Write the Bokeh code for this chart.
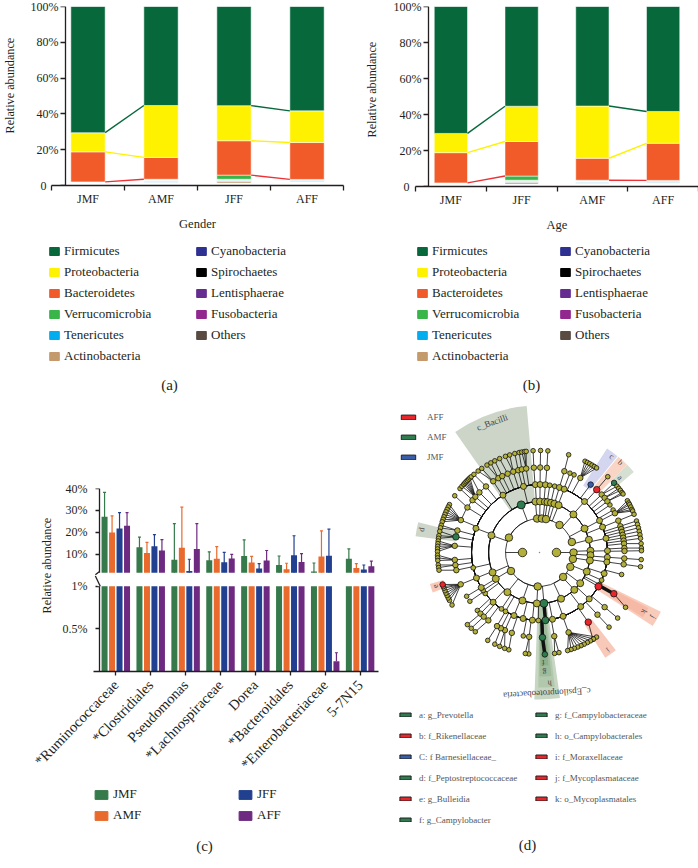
from math import pi, radians, sin, cos
from bokeh.plotting import figure
from bokeh.layouts import column, row
from bokeh.models import (ColumnDataSource, FixedTicker, Label, Legend, LegendItem, LinearAxis,
                          Range1d, TeeHead, Title, Whisker)
from bokeh.core.properties import value
from bokeh.embed import file_html
from bokeh.resources import INLINE

SERIF = "Liberation Serif"
INK = "#231f20"
PAGE_X = 10  # the layout's negative margins move the page origin by these amounts
PAGE_Y = 4

# ---- panels (a), (b): stacked composition, order JMF, AMF, JFF, AFF
groups = ["JMF", "AMF", "JFF", "AFF"]
order_a = ["JMF", "AMF", "JFF", "AFF"]
order_b = ["JMF", "JFF", "AMF", "AFF"]
blank_low = [2.0, 1.8, 1.4, 2.2]
actinobacteria = [0, 0, 0.9, 0]
tenericutes = [0, 0.6, 0.6, 0.7]
blank_high = [0, 1.1, 0.6, 0.5]
verrucomicrobia = [0, 0, 2.3, 0]
bacteroidetes = [16.8, 12.2, 19.2, 20.6]
proteobacteria = [10.7, 29.0, 19.6, 17.7]
firmicutes = [70.5, 55.3, 55.4, 58.3]

phyla_left = ["Firmicutes", "Proteobacteria", "Bacteroidetes", "Verrucomicrobia", "Tenericutes", "Actinobacteria"]
phyla_right = ["Cyanobacteria", "Spirochaetes", "Lentisphaerae", "Fusobacteria", "Others"]
phylum_colors = {"Firmicutes": "#06683b", "Proteobacteria": "#fff200", "Bacteroidetes": "#f15a29",
                 "Verrucomicrobia": "#39b54a", "Tenericutes": "#00aeef", "Actinobacteria": "#c49a6c",
                 "Cyanobacteria": "#2e3192", "Spirochaetes": "#000000", "Lentisphaerae": "#662d91",
                 "Fusobacteria": "#92278f", "Others": "#594a42"}
pct_ticks = [0, 20, 40, 60, 80, 100]
pct_labels = ["0\u00a0\u00a0\u00a0\u00a0", "20%", "40%", "60%", "80%", "100%"]

# ---- panel (c)
genera = ["*Ruminococcaceae", "*Clostridiales", "Pseudomonas", "*Lachnospiraceae", "Dorea",
          "*Bacteroidales", "*Enterobacteriaceae", "5-7N15"]
c_groups = ["JMF", "AMF", "JFF", "AFF"]
c_colors = ["#36794b", "#e86a2c", "#21408f", "#6e2a80"]
jmf_mean = [27.2, 13.3, 7.6, 7.3, 9.3, 5.2, 2.2, 8.0]
jmf_top = [38.2, 17.9, 24.0, 11.2, 16.6, 9.3, 6.1, 12.5]
amf_mean = [20.0, 10.6, 13.1, 8.0, 6.3, 3.3, 9.1, 3.8]
amf_top = [27.5, 15.5, 31.5, 13.6, 9.1, 6.0, 20.7, 5.8]
jff_mean = [21.8, 13.7, 2.5, 6.4, 3.6, 9.6, 9.4, 3.2]
jff_top = [29.0, 19.0, 7.8, 10.9, 5.8, 18.5, 21.5, 5.2]
aff_mean = [23.0, 11.8, 12.5, 8.2, 7.2, 6.6, 0.12, 4.6]
aff_top = [29.0, 16.7, 24.0, 10.0, 11.8, 10.4, 0.22, 7.0]

# ---- panel (d): cladogram; a node is an angle (degrees clockwise from north) or (angle, children)
ring_step = 17
clades = [
    (296, [
        (289.6, [
            (290.8, [(292.4, [298, 296.5, 295, 293.5, 292, 290.5, 289, 287.5]),
                     (285, [285.5, 284]), (280.6, [282, 279.5, 278]),
                     (274.5, [276.5, 275, 273.5, 272, 270.5]), (265, [268.5, 267, 265.5]),
                     (261.5, [263, 261.5]), (258, [260]),
                     (302, [303.8]), (308, [308.8]),
                     (311, [310.5, 312, 313, 314, 315, 316, 317]), (315, [318]), (321, [320])]),
            257]),
        (339, [
            (327.5, [(327, [323, 325.5]), (331, [329, 331.5]), (334, [334]),
                     (338, [337]), (342, [340.5, 343])]),
            (346.4, [(345.5, [346]), (348, [348.5]), (351, [350, 351.5, 352.5])])]),
    ]),
    (356, [(355.5, [(356.5, [(356.2, [356.4])])])]),
    (4, [(0.5, [(0.5, [(0.5, [0.6])])]), (6, [(5, [(5, [4.7])])])]),
    (11, [(9, [8.7]), (13, [12.9]), (17, [(17, [(17, [16.6])])]), (22, [(21.3, [21, 24])])]),
    (36, [(41.7, [(41.4, [(28.7, [26.5, 28, 29.5, 31, 32.5, 34]), 37, (42.3, [42]),
                          (47, [47, 49.5]), (50, [51, 52.5]), (53, [54, 55]), 56, 60])])]),
    (72, [(62, [(62, [(62.5, [59.5, 61, 62, 63.5, 65, 66])]), (68, [(68, [68])])]),
          (75.5, [(78, [(72, [72]), (74, [74]), (76, [76]), (78, [78]), (80, [80]),
                        (82, [82]), (84, [85]), (87, [87.5])])])]),
    (90, [(88, [(88.5, [(89, [89])])]), (93, [(94, [(94, [94])])])]),
    (101, [(99, [(98, [(98, [98])])])]),
    (115, [(112, [(108, [(105, [])]), 114, 118, (120, [(119, [122.5])])])]),
    (136, [(127, [(133, [(130, [130]), (137, [137])])]),
           (137, [(142.7, [(145, [148.4])])]),
           (155, [(159.7, [(160, [146, 148, 150, 152, 154, 156, 158, 160, 162, 164])]),
                  (169, [(170, [169, 171.5])])])]),
    (183, [(175, [(175, [(178, [177])])]),
           (183, [(186, [(187, [186, 188])]), 181]),
           (199.5, [(194, [191]), (202, [(199, [197.5]), (204, [200, 203]), (207, [206]), (210, [210.5])])]),
           (219, [214, 210, (223, [227, (224, [225]), (221, [222]), (217, [219])])])]),
    (237, [(239, [233, 236, (239, [235, 239])]),
           (247, [(248, [(248, [239, 242, 243.5, 245, 246.5, 248, 249.5, 250.5, 251.7])])])]),
]
top_level_nodes = [270, 90]
ring_arcs = [(34, 237, 432), (34, 115, 237), (51, 290, 339), (51, 339, 360), (51, 356, 385),
             (68, 356, 381), (85, 292, 321)]
green, red, blue = "#2f7d4f", "#e8272d", "#3a5da8"
colored = {(51, 339): green, (85, 280.6): green, (102, 47): green, (85, 37): blue, (85, 42.3): red,
           (102, 251.7): red, (85, 145): red, (68, 120): red, (85, 119): red,
           (51, 175): green, (68, 175): green, (85, 178): green, (102, 177): green}
# (r_in, r_out, from, to, colour)
shades = [(50, 147, 325, 355, "#ccd5c8"), (80, 124, 33, 39, "#d3d6ee"), (85, 124, 39.5, 45, "#f9d5c5"),
          (100, 124, 45, 49.5, "#d5dfd2"), (85, 125, 277.5, 284, "#cdd6c8"), (100, 114, 249.5, 254, "#f8c8b8"),
          (85, 124, 142, 148, "#f8c8b8"), (68, 135, 116, 123, "#f9cbbb"), (85, 122, 117, 122, "#f6b9a5"),
          (50, 147, 172, 182, "#c6d6c2"), (51, 135, 173.5, 180.5, "#b2c8ad"),
          (68, 124, 174.5, 180, "#a0bb9b"), (85, 113, 175.5, 179.5, "#8db08a")]
wedge_text = [("c_Bacilli", 138.5, 340, 9), ("c_Epsilonproteobacteria", 141, 177, 9),
              ("a", 110, 47, 8), ("b", 121, 42, 8), ("c", 120, 37, 8), ("d", 120, 281, 8), ("e", 110, 252, 8),
              ("f", 110, 178, 8), ("g", 120, 177.6, 8), ("h", 131, 175.5, 8), ("i", 119, 145, 8),
              ("j", 131, 119.6, 8), ("k", 120, 119.4, 8)]
d_groups = [("AFF", red), ("AMF", green), ("JMF", blue)]
d_left = [("a: g_Prevotella", green), ("b: f_Rikenellaceae", red), ("C: f Barnesiellaceae_", blue),
          ("d: f_Peptostreptococcaceae", green), ("e: g_Bulleidia", red), ("f: g_Campylobacter", green)]
d_right = [("g: f_Campylobacteraceae", green), ("h: o_Campylobacterales", green), ("i: f_Moraxellaceae", red),
           ("j: f_Mycoplasmataceae", red), ("k: o_Mycoplasmatales", red)]


def base_fig(w, h, left, right, top, bottom, xr, yr):
    return figure(width=w, height=h, min_border_left=left, min_border_right=right, min_border_top=top,
                  min_border_bottom=bottom, x_range=xr, y_range=yr, output_backend="svg",
                  toolbar_location=None, tools="", outline_line_color=None, background_fill_color=None,
                  border_fill_color=None, frame_align=False)


def sheet(w, h):
    """A figure whose frame is its whole canvas (for legends and captions); y counts from the top."""
    p = base_fig(w, h, 0, 0, 0, 0, Range1d(0, w), Range1d(h, 0))
    p.axis.visible = False
    p.grid.visible = False
    return p


def swatch(p, color, line=None):
    return p.rect(x=[float("nan")], y=[float("nan")], width=1, height=1, fill_color=color,
                  line_color=line or color, line_width=1)


def add_legend(p, entries, x, top, h, gw, gh, pitch, size, standoff, row_h, text_color=INK, line=None):
    items = [LegendItem(label=value(n), renderers=[swatch(p, c, line)]) for n, c in entries]
    total = row_h * len(entries) + (pitch - row_h) * (len(entries) - 1)
    lg = Legend(items=items, location=(x, h - (top + total)), padding=0, margin=0,
                spacing=pitch - row_h, glyph_width=gw, glyph_height=gh, label_height=row_h,
                label_standoff=standoff, label_text_font=SERIF, label_text_font_size=size,
                label_text_color=text_color, border_line_color=None, background_fill_alpha=0)
    p.add_layout(lg, "center")


def caption(p, text, x, y, size="15px"):
    p.add_layout(Label(x=x, y=y, text=text, text_font=SERIF, text_font_size=size, text_align="center",
                       text_baseline="middle", text_color=INK))


def y_title(p, size, offset, standoff):
    p.add_layout(Title(text="Relative abundance", align="left", offset=offset, standoff=standoff,
                       text_font=SERIF, text_font_size=size, text_font_style="normal", text_color=INK), "left")


def style_axis(ax, size="12px"):
    ax.axis_line_color = INK
    ax.axis_line_width = 1.3
    ax.major_tick_line_color = INK
    ax.major_tick_line_width = 1.3
    ax.minor_tick_line_color = INK
    ax.minor_tick_line_width = 1.3
    ax.major_label_text_font = SERIF
    ax.major_label_text_font_size = size
    ax.major_label_text_color = INK


def split_y_axis(p, ticks, labels, axis_pos, tick_len, standoff):
    """Labels stay on the frame's side axis; the line and ticks are a second axis inset in the frame."""
    lab = p.yaxis[0]
    lab.ticker = FixedTicker(ticks=ticks)
    lab.major_label_overrides = dict(zip(ticks, labels))
    lab.axis_line_color = None
    lab.major_tick_line_color = None
    lab.minor_tick_line_color = None
    lab.major_tick_in, lab.major_tick_out, lab.minor_tick_in, lab.minor_tick_out = 0, 0, 0, 0
    lab.major_label_standoff = standoff
    lab.major_label_text_font = SERIF
    lab.major_label_text_font_size = "12px"
    lab.major_label_text_color = INK
    line = LinearAxis(fixed_location=axis_pos, ticker=FixedTicker(ticks=ticks), major_label_text_font_size="0px",
                      major_tick_in=0, major_tick_out=tick_len, minor_tick_in=0, minor_tick_out=0,
                      major_label_standoff=0, major_label_text_alpha=0)
    style_axis(line, "0px")
    p.add_layout(line, "left")
    return line


def stacked_panel(order, w, left, right, top, bottom, axis_x, bar_w, xname, tag, tag_x, legend_x1, legend_x2,
                  y_offset, label_standoff, title_standoff):
    idx = [groups.index(g) for g in order]
    pick = lambda s: [s[i] for i in idx]
    names = ["blank_low", "Actinobacteria", "Tenericutes", "blank_high", "Verrucomicrobia",
             "Bacteroidetes", "Proteobacteria", "Firmicutes"]
    cols = [blank_low, actinobacteria, tenericutes, blank_high, verrucomicrobia,
            bacteroidetes, proteobacteria, firmicutes]
    colors = ["#ffffff", phylum_colors["Actinobacteria"], "#6fc8ea", "#ffffff", phylum_colors["Verrucomicrobia"],
              phylum_colors["Bacteroidetes"], phylum_colors["Proteobacteria"], phylum_colors["Firmicutes"]]
    data = {n: pick(c) for n, c in zip(names, cols)}
    data["x"] = [i + 0.5 for i in range(4)]
    p = base_fig(w, 240 + PAGE_Y, left, right, top + PAGE_Y, bottom, Range1d(0, 4), Range1d(0, 100))
    p.vbar_stack(names, x="x", width=bar_w, color=colors, source=ColumnDataSource(data),
                 line_color="#ffffff", line_width=0.7, line_alpha=0.75)
    # connecting lines between paired bars
    cum = [0, 0, 0, 0]
    levels = {}
    for n in names:
        if n in ("Bacteroidetes", "Proteobacteria", "Firmicutes"):
            levels[n] = list(cum)
        cum = [a + b for a, b in zip(cum, data[n])]
    for n, c in (("Firmicutes", "#06683b"), ("Proteobacteria", "#fff200"), ("Bacteroidetes", "#ed3237")):
        for a, b in ((0, 1), (2, 3)):
            p.line([a + 0.5 + bar_w / 2, b + 0.5 - bar_w / 2], [levels[n][a], levels[n][b]], line_color=c, line_width=1.4)
    p.grid.visible = False
    split_y_axis(p, pct_ticks, pct_labels, axis_x, 5, label_standoff)
    xa = p.xaxis[0]
    xa.ticker = FixedTicker(ticks=data["x"], minor_ticks=[0, 1, 2, 3, 4])
    xa.major_label_overrides = {x: g for x, g in zip(data["x"], order)}
    xa.major_tick_in, xa.major_tick_out = 0, 0
    xa.minor_tick_in, xa.minor_tick_out = 0, 5
    xa.major_label_standoff = 1
    xa.axis_label = xname
    xa.axis_label_standoff = 8
    xa.axis_label_text_font = SERIF
    xa.axis_label_text_font_size = "12.5px"
    xa.axis_label_text_font_style = "normal"
    xa.axis_label_text_color = INK
    style_axis(xa)
    y_title(p, "12.2px", y_offset, title_standoff)
    s = sheet(w, 160)
    add_legend(s, [(n, phylum_colors[n]) for n in phyla_left], legend_x1, 3, 160, 12, 10, 21, "13px", 4, 16)
    add_legend(s, [(n, phylum_colors[n]) for n in phyla_right], legend_x2, 3, 160, 12, 10, 21, "13px", 4, 16)
    caption(s, tag, tag_x, 144)
    return column(p, s, spacing=0)


pa = stacked_panel(order_a, 350 + PAGE_X, 48 + PAGE_X, 7, 6, 55, 0.195, 0.47, "Gender", "(a)", 169 + PAGE_X,
                   48 + PAGE_X, 195 + PAGE_X, 52, -7, 21)
pb = stacked_panel(order_b, 348, 63, 0, 6, 54, 0.19, 0.47, "Age", "(b)", 181, 66, 209, 49, -6, 24)

# ---------------------------- panel (c)
PX = 34.9
x0, x1 = (93 - 115.3) / PX, (378 - 115.3) / PX
y_top = 40.0
y_bot = 10 - (675 - 555.7) / 2.24
low_top = (675 - 488.3) / 87.0
pc = base_fig(380 + PAGE_X, 380, 93 + PAGE_X, 2, 88, 105, Range1d(x0, x1), Range1d(y_bot, y_top))
pc.extra_y_ranges = {"low": Range1d(0, low_top)}
break_at = 10 - (574.3 - 555.7) / 2.24
means = [jmf_mean, amf_mean, jff_mean, aff_mean]
tops = [jmf_top, amf_top, jff_top, aff_top]
offs = [-0.322, -0.107, 0.107, 0.322]


def low_to_main(v):
    """Position on the main axis of a value on the lower (0-1%) segment."""
    return round(y_bot + v * (y_top - y_bot) / low_top, 3)


for off, col, m, t in zip(offs, c_colors, means, tops):
    xs = [i + off for i in range(len(genera))]
    up = [(x, v, e) for x, v, e in zip(xs, m, t) if v > break_at]
    src = ColumnDataSource(dict(x=[u[0] for u in up], v=[u[1] for u in up], e=[u[2] for u in up],
                                b=[break_at] * len(up), lo=[max(2 * u[1] - u[2], break_at) for u in up]))
    pc.vbar(x="x", bottom="b", top="v", width=0.172, source=src, fill_color=col, line_color=None)
    pc.add_layout(Whisker(source=src, base="x", upper="e", lower="lo", dimension="height",
                          line_color=col, line_width=1.2, upper_head=TeeHead(size=3, line_color=col, line_width=1.2),
                          lower_head=None))
    low = ColumnDataSource(dict(x=xs, v=[min(v, 1) for v in m]))
    pc.vbar(x="x", bottom=0, top="v", width=0.172, source=low, fill_color=col, line_color=None, y_range_name="low")
    sm = [(x, v, e) for x, v, e in zip(xs, m, t) if e < 1]
    if sm:
        s2 = ColumnDataSource(dict(x=[a[0] for a in sm], v=[a[1] for a in sm], e=[a[2] for a in sm]))
        pc.add_layout(Whisker(source=s2, base="x", upper="e", lower="v", dimension="height", y_range_name="low",
                              line_color=col, line_width=1.2, upper_head=TeeHead(size=3, line_color=col, line_width=1.2),
                              lower_head=None))
pc.grid.visible = False
axis_pos = (98.7 - 115.3) / PX
c_ticks = [10, 20, 30, 40, low_to_main(0), low_to_main(0.5), low_to_main(1)]
c_labels = ["10%", "20%", "30%", "40%", "0", "0.5%", "1%"]
split_y_axis(pc, c_ticks, c_labels, axis_pos, 4, 6)
xa = pc.xaxis[0]
xa.ticker = FixedTicker(ticks=list(range(len(genera))))
xa.major_label_overrides = {i: g for i, g in enumerate(genera)}
xa.major_tick_in, xa.major_tick_out = 0, 4
xa.minor_tick_in, xa.minor_tick_out = 0, 0
xa.major_label_orientation = 0.8
xa.major_label_standoff = 7
style_axis(xa, "14.5px")
# axis break: white gap across the axis line and two slanted ticks
pc.quad(left=[axis_pos - 0.05], right=[axis_pos + 0.05], bottom=[break_at], top=[low_to_main(1)],
        fill_color="#ffffff", line_color=None, level="overlay")
pc.segment(x0=[axis_pos - 0.11], y0=[break_at - 0.9], x1=[axis_pos], y1=[break_at + 0.4],
           line_color=INK, line_width=1.3, level="overlay")
pc.segment(x0=[axis_pos - 0.11], y0=[low_to_main(1.12)], x1=[axis_pos + 0.03], y1=[low_to_main(1.0)],
           line_color=INK, line_width=1.3, level="overlay")
y_title(pc, "12.2px", 58, 11)
cs = sheet(380 + PAGE_X, 88)
add_legend(cs, [("JMF", c_colors[0]), ("AMF", c_colors[1])], 93 + PAGE_X, 6, 88, 16, 11, 21, "13px", 4, 16)
add_legend(cs, [("JFF", c_colors[2]), ("AFF", c_colors[3])], 237 + PAGE_X, 6, 88, 16, 11, 21, "13px", 4, 16)
caption(cs, "(c)", 204 + PAGE_X, 65)

# ---------------------------- panel (d)
pd = base_fig(318, 468, 0, 0, 0, 0, Range1d(-159, 159), Range1d(-316, 152))
pd.axis.visible = False
pd.grid.visible = False


def polar(r, a):
    return r * sin(radians(a)), r * cos(radians(a))


for r0, r1, a0, a1, col in shades:
    pd.annular_wedge(x=[0], y=[0], inner_radius=r0, outer_radius=r1, start_angle=radians(90 - a0),
                     end_angle=radians(90 - a1), direction="clock", fill_color=col, line_color=None)

arc_r, arc_s, arc_e = [], [], []
seg = {"x0": [], "y0": [], "x1": [], "y1": []}
thick = {"x0": [], "y0": [], "x1": [], "y1": []}
nodes = {"x": [], "y": [], "size": [], "color": []}
OLIVE = "#b3b03a"
SIZES = {17: 8.5, 34: 7.5, 51: 7, 68: 6, 85: 5.5, 102: 4.6}


def walk(node, r):
    a, kids = (node, []) if not isinstance(node, tuple) else node
    col = colored.get((r, a))
    x, y = polar(r, a)
    size = SIZES[r]
    if not kids and r < 102:
        size = max(size - 1.2, 4.6)
    if col:
        size += 1
    nodes["x"].append(x); nodes["y"].append(y); nodes["size"].append(size); nodes["color"].append(col or OLIVE)
    if kids:
        angs = [k if not isinstance(k, tuple) else k[0] for k in kids]
        fan = r >= 85  # the outermost level fans out straight from its node
        if not fan:
            span = angs + [a]
            arc_r.append(r); arc_s.append(radians(90 - min(span))); arc_e.append(radians(90 - max(span)))
        for k, ka in zip(kids, angs):
            kc = colored.get((r + ring_step, ka))
            tgt = thick if (col and kc) else seg
            p0, p1 = polar(r, a if fan else ka), polar(r + ring_step, ka)
            tgt["x0"].append(p0[0]); tgt["y0"].append(p0[1]); tgt["x1"].append(p1[0]); tgt["y1"].append(p1[1])
            walk(k, r + ring_step)


for c in clades:
    walk(c, 34)
for a in top_level_nodes:
    x, y = polar(17, a)
    nodes["x"].append(x); nodes["y"].append(y); nodes["size"].append(SIZES[17]); nodes["color"].append(OLIVE)
    p0, p1 = polar(17, a), polar(34, a)
    seg["x0"].append(p0[0]); seg["y0"].append(p0[1]); seg["x1"].append(p1[0]); seg["y1"].append(p1[1])
for r, a0, a1 in ring_arcs:
    arc_r.append(r); arc_s.append(radians(90 - a0)); arc_e.append(radians(90 - a1))

pd.arc(x=0, y=0, radius=arc_r, start_angle=arc_s, end_angle=arc_e, direction="clock", line_color="#111111", line_width=0.8)
pd.segment(x0="x0", y0="y0", x1="x1", y1="y1", source=ColumnDataSource(seg), line_color="#111111", line_width=0.8)
pd.segment(x0="x0", y0="y0", x1="x1", y1="y1", source=ColumnDataSource(thick), line_color="#111111", line_width=3.5)
pd.scatter(x="x", y="y", size="size", fill_color="color", line_color="#111111", line_width=0.8,
           source=ColumnDataSource(nodes))
pd.scatter(x=[0], y=[0], size=1.5, fill_color="#888888", line_color=None)
for t, r, a, fs in wedge_text:
    x, y = polar(r, a)
    pd.text(x=[x], y=[y], text=[t], angle=[radians(-a)], text_font=value(SERIF), text_font_size=value(f"{fs}px"),
            text_align="center", text_baseline="middle", text_color="#444444")
add_legend(pd, d_groups, 19, 11, 468, 18, 6, 20, "9px", 10, 11, "#555555", "#222222")
add_legend(pd, d_left, 18, 309, 468, 14, 5, 21, "9px", 7, 11, "#555555", "#222222")
add_legend(pd, d_right, 154, 309, 468, 14, 5, 21, "9px", 7, 11, "#555555", "#222222")
pd.add_layout(Label(x=-12, y=-292, text="(d)", text_font=SERIF, text_font_size="15px", text_align="center",
                    text_baseline="middle", text_color=INK))

layout = column(row(pa, pb, spacing=0), row(column(pc, cs, spacing=0), pd, spacing=0), spacing=0,
                margin=(-PAGE_Y, 0, 0, -PAGE_X))
open("out.html", "w").write(file_html(layout, INLINE))
